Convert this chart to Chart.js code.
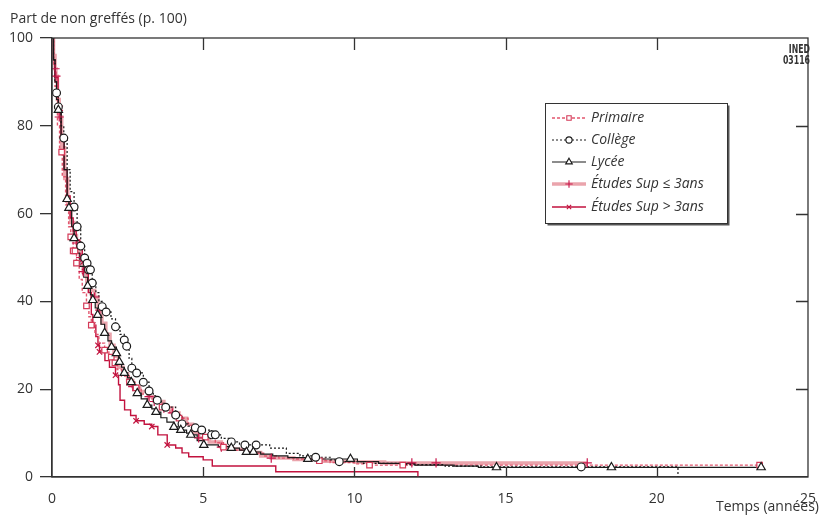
<!DOCTYPE html>
<html>
<head>
<meta charset="utf-8">
<script src="https://cdn.jsdelivr.net/npm/chart.js@4.4.0/dist/chart.umd.min.js"></script>
<style>
body{margin:0;background:#fff;}
#cadre{width:822px;height:516px;}
</style>
</head>
<body>
<div id="cadre"><canvas id="graficoGreffe" width="822" height="516"></canvas></div>
<script>
const ticksX = [0, 5, 10, 15, 20, 25];
const ticksY = [0, 20, 40, 60, 80, 100];

const primaireTemps = [0, 0.05, 0.1, 0.18, 0.25, 0.34, 0.45, 0.55, 0.62, 0.7, 0.81, 0.9, 1.0, 1.14, 1.22, 1.3, 1.42, 1.55, 1.74, 1.88, 2.01, 2.15, 2.3, 2.56, 2.78, 2.95, 3.15, 3.4, 3.64, 3.9, 4.2, 4.5, 4.8, 5.07, 5.4, 5.67, 6.0, 6.5, 7.0, 7.5, 8.0, 8.84, 9.2, 10.0, 10.5, 23.4];
const primaireSurv = [100, 94, 89, 80, 74, 68.4, 62, 57, 54.7, 51.5, 48.7, 45, 42, 39, 36.5, 34.6, 32.5, 30.5, 28.9, 27.3, 26, 24.5, 23, 21.6, 20.3, 18.9, 17.8, 16.8, 15.9, 14.6, 13.4, 11.8, 10.2, 9.1, 7.8, 6.8, 6.1, 5.4, 4.8, 4.3, 4.1, 3.7, 3.3, 3.0, 2.7, 2.7];
const primaireMarques = [0.32, 0.62, 0.7, 0.76, 0.81, 1.14, 1.3, 1.74, 1.96, 2.08, 2.56, 2.78, 3.64, 4.2, 5.07, 5.67, 8.84, 10.5, 11.6, 23.4];

const collegeTemps = [0, 0.05, 0.1, 0.15, 0.21, 0.3, 0.39, 0.5, 0.6, 0.73, 0.83, 0.95, 1.08, 1.16, 1.21, 1.33, 1.45, 1.55, 1.66, 1.79, 1.95, 2.1, 2.25, 2.39, 2.47, 2.55, 2.64, 2.8, 3.02, 3.21, 3.35, 3.48, 3.62, 3.76, 4.09, 4.3, 4.5, 4.74, 4.95, 5.28, 5.6, 5.93, 6.2, 6.38, 7.2, 7.75, 8.2, 8.72, 9.2, 9.5, 10.3, 11.5, 13.0, 14.2, 20.7];
const collegeSurv = [100, 95, 90, 87.5, 84.3, 80, 77.2, 70, 65, 61.5, 57, 52.6, 49.9, 48.7, 47.2, 44.2, 42, 40, 38.8, 37.6, 36, 34.2, 32.5, 31.2, 29.8, 27, 24.8, 23.7, 21.6, 19.6, 18.5, 17.5, 16.8, 15.9, 14.1, 12.1, 11.6, 11.2, 10.7, 9.6, 8.8, 8.0, 7.5, 7.3, 6.6, 5.4, 4.8, 4.5, 3.9, 3.5, 3.1, 2.8, 2.5, 2.3, 0];
const collegeMarques = [0.15, 0.21, 0.39, 0.73, 0.83, 0.95, 1.08, 1.16, 1.21, 1.27, 1.33, 1.66, 1.79, 2.1, 2.39, 2.47, 2.64, 2.8, 3.02, 3.21, 3.48, 3.76, 4.09, 4.3, 4.74, 4.95, 5.28, 5.4, 5.93, 6.38, 6.75, 8.72, 9.5, 17.5];

const lyceeTemps = [0, 0.05, 0.1, 0.15, 0.21, 0.3, 0.4, 0.5, 0.56, 0.65, 0.73, 0.82, 0.92, 1.05, 1.18, 1.27, 1.35, 1.43, 1.51, 1.62, 1.74, 1.85, 1.97, 2.13, 2.2, 2.3, 2.39, 2.5, 2.62, 2.72, 2.82, 2.95, 3.15, 3.3, 3.44, 3.6, 3.8, 4.03, 4.26, 4.45, 4.59, 4.8, 5.02, 5.5, 5.93, 6.2, 6.43, 6.9, 7.3, 7.8, 8.46, 10.1, 10.8, 12.0, 13.3, 14.1, 23.5];
const lyceeSurv = [100, 95, 90, 86, 83.6, 77, 70, 63.3, 61.3, 57, 54.4, 51, 48, 45.5, 43.5, 41.5, 40.3, 38.5, 36.9, 34.8, 32.8, 31, 29.6, 28.2, 26.2, 25, 23.7, 22.6, 21.6, 20.3, 19.1, 17.8, 16.4, 15.5, 14.8, 13.5, 12.5, 11.4, 10.7, 10.0, 9.6, 8.3, 7.3, 6.9, 6.6, 6.1, 5.7, 5.2, 4.8, 4.4, 4.1, 3.5, 3.1, 2.7, 2.5, 2.2, 2.2];
const lyceeMarques = [0.21, 0.5, 0.56, 0.73, 1.18, 1.35, 1.51, 1.74, 1.97, 2.13, 2.23, 2.39, 2.62, 2.82, 3.15, 3.44, 4.03, 4.26, 4.59, 5.02, 5.93, 6.43, 6.66, 8.46, 9.87, 14.7, 18.5, 23.45];

const supCourtTemps = [0, 0.05, 0.1, 0.13, 0.18, 0.24, 0.32, 0.42, 0.52, 0.62, 0.72, 0.81, 0.92, 1.03, 1.15, 1.28, 1.41, 1.52, 1.65, 1.78, 1.92, 2.05, 2.2, 2.35, 2.5, 2.67, 2.9, 3.21, 3.38, 3.7, 3.98, 4.2, 4.45, 4.65, 4.85, 5.2, 5.6, 5.9, 6.4, 6.9, 7.25, 8.0, 9.0, 10.0, 11.0, 17.7];
const supCourtSurv = [100, 96, 93, 91.3, 86, 82, 75, 68, 62, 58, 55, 53.3, 50, 46.8, 44.5, 42.5, 41, 38, 35, 32.5, 30, 27.5, 25, 23.5, 22, 20.6, 19.5, 18.3, 17.2, 15.7, 14.6, 13.4, 12.0, 10.2, 8.9, 8.0, 6.8, 6.3, 5.6, 4.8, 4.3, 4.0, 3.6, 3.4, 3.2, 3.2];
const supCourtMarques = [0.1, 0.13, 0.24, 0.81, 0.95, 1.03, 1.41, 1.58, 2.67, 3.21, 3.38, 3.7, 3.98, 4.2, 4.85, 5.6, 7.25, 11.9, 12.7, 17.7];

const supLongTemps = [0, 0.05, 0.1, 0.2, 0.3, 0.4, 0.5, 0.6, 0.7, 0.8, 0.92, 1.0, 1.08, 1.2, 1.3, 1.35, 1.45, 1.52, 1.57, 1.75, 1.9, 2.1, 2.2, 2.25, 2.4, 2.6, 2.78, 3.05, 3.3, 3.5, 3.81, 4.09, 4.3, 4.52, 5.0, 5.3, 7.4, 12.1];
const supLongSurv = [100, 95, 91, 84, 77, 70, 64, 59, 56, 54, 52.5, 49, 46.8, 42, 37, 34.6, 32, 30, 28.5, 26.5, 25, 23.2, 21, 17.5, 15.3, 14, 12.8, 12, 11.5, 9.6, 7.3, 6.6, 5.5, 4.6, 3.9, 2.5, 1.2, 0];
const supLongMarques = [0.27, 0.92, 1.03, 1.08, 1.35, 1.52, 1.57, 2.1, 2.78, 3.3, 3.81];

// valeur de la courbe en escalier au temps t
function survie(temps, surv, t) {
    let v = surv[0];
    for (let i = 0; i < temps.length; i++) {
        if (temps[i] <= t + 1e-9) v = surv[i];
    }
    return v;
}

const series = [
    {label: 'Primaire', temps: primaireTemps, surv: primaireSurv, marques: primaireMarques,
     couleur: '#e2566e', largeur: 1.4, tirets: [3, 2], point: 'rect', couleurPoint: '#d43a58', rayon: 3.9, ordre: 3},
    {label: 'Collège', temps: collegeTemps, surv: collegeSurv, marques: collegeMarques,
     couleur: '#1a1a1a', largeur: 1.2, tirets: [2, 2], point: 'circle', couleurPoint: '#1a1a1a', rayon: 3.9, ordre: 2},
    {label: 'Lycée', temps: lyceeTemps, surv: lyceeSurv, marques: lyceeMarques,
     couleur: '#1a1a1a', largeur: 1.2, tirets: [], point: 'triangle', couleurPoint: '#1a1a1a', rayon: 4.8, ordre: 1},
    {label: 'Études Sup ≤ 3ans', temps: supCourtTemps, surv: supCourtSurv, marques: supCourtMarques,
     couleur: '#eaa4ac', largeur: 3.5, tirets: [], point: 'cross', couleurPoint: '#c8174b', rayon: 4.6, ordre: 5},
    {label: 'Études Sup > 3ans', temps: supLongTemps, surv: supLongSurv, marques: supLongMarques,
     couleur: '#c2123e', largeur: 1.4, tirets: [], point: 'crossRot', couleurPoint: '#c2123e', rayon: 3.8, ordre: 4}
];

const datasets = [];
series.forEach(s => {
    datasets.push({
        label: s.label,
        data: s.temps.map((t, i) => ({x: t, y: s.surv[i]})),
        stepped: 'before',
        borderColor: s.couleur,
        borderWidth: s.largeur,
        borderDash: s.tirets,
        pointRadius: 0,
        fill: false,
        order: s.ordre + 10
    });
    datasets.push({
        label: s.label + ' (censures)',
        data: s.marques.map(t => ({x: t, y: survie(s.temps, s.surv, t)})),
        showLine: false,
        pointStyle: s.point,
        pointRadius: s.rayon,
        pointBorderColor: s.couleurPoint,
        pointBackgroundColor: '#fff',
        pointBorderWidth: 1.2,
        order: s.ordre
    });
});

const decor = {
    id: 'decor',
    afterDatasetsDraw(chart) {
        const {ctx, chartArea: a, scales: {x, y}} = chart;
        ctx.save();
        ctx.strokeStyle = '#333';
        ctx.lineWidth = 1.3;
        ctx.strokeRect(a.left, a.top, a.right - a.left, a.bottom - a.top);
        ctx.beginPath();
        ticksX.slice(1, -1).forEach(v => {
            const px = Math.round(x.getPixelForValue(v)) + 0.5;
            ctx.moveTo(px, a.top); ctx.lineTo(px, a.top + 12);
            ctx.moveTo(px, a.bottom); ctx.lineTo(px, a.bottom - 10);
        });
        ticksY.slice(1, -1).forEach(v => {
            const py = Math.round(y.getPixelForValue(v)) + 0.5;
            ctx.moveTo(a.right, py); ctx.lineTo(a.right - 12, py);
        });
        ctx.stroke();

        ctx.fillStyle = '#333';
        ctx.font = '14px "Open Sans"';
        ctx.textAlign = 'left';
        ctx.textBaseline = 'alphabetic';
        ctx.fillText('Part de non greffés (p. 100)', 10, 23);
        ctx.textAlign = 'right';
        ctx.fillText('Temps (années)', 819, 511);

        // cartouche INED, police étroite
        ctx.font = 'bold 12px "DejaVu Sans Condensed"';
        [['INED', 53], ['03116', 64]].forEach(([txt, ty]) => {
            ctx.save();
            ctx.translate(810, ty);
            ctx.scale(0.72, 1);
            ctx.fillText(txt, 0, 0);
            ctx.restore();
        });

        // légende
        const bx = 545.5, by = 103.5, bw = 182, bh = 120;
        ctx.fillStyle = '#555';
        ctx.fillRect(bx + 2, by + 2, bw, bh);
        ctx.fillStyle = '#fff';
        ctx.fillRect(bx, by, bw, bh);
        ctx.lineWidth = 1;
        ctx.strokeStyle = '#333';
        ctx.strokeRect(bx, by, bw, bh);

        const lignes = [118, 140, 162, 184, 207];
        series.forEach((s, i) => {
            const ly = lignes[i];
            ctx.save();
            ctx.strokeStyle = s.couleur;
            ctx.lineWidth = s.largeur;
            ctx.setLineDash(s.tirets);
            ctx.beginPath();
            ctx.moveTo(552, ly); ctx.lineTo(586, ly);
            ctx.stroke();
            ctx.restore();
            ctx.save();
            ctx.strokeStyle = s.couleurPoint;
            ctx.fillStyle = '#fff';
            ctx.lineWidth = 1.1;
            Chart.helpers.drawPoint(ctx, {pointStyle: s.point, radius: s.rayon * 0.8, rotation: 0, borderWidth: 1.1}, 569, ly);
            ctx.restore();
            ctx.fillStyle = '#333';
            ctx.font = 'italic 14px "Open Sans"';
            ctx.textAlign = 'left';
            ctx.textBaseline = 'middle';
            ctx.fillText(s.label, 591, ly);
        });
        ctx.restore();
    }
};

new Chart(document.getElementById('graficoGreffe').getContext('2d'), {
    type: 'line',
    data: {datasets: datasets},
    plugins: [decor],
    options: {
        responsive: false,
        animation: false,
        layout: {padding: {top: 38, right: 8, left: 0, bottom: 0}},
        plugins: {
            legend: {display: false},
            tooltip: {enabled: false}
        },
        scales: {
            x: {
                type: 'linear',
                min: 0,
                max: 25,
                afterFit: s => { s.height = 39; },
                afterBuildTicks: s => { s.ticks = ticksX.map(v => ({value: v})); },
                grid: {display: false},
                border: {color: '#333', width: 1.3},
                ticks: {padding: 6, color: '#333', font: {family: 'Open Sans', size: 14}}
            },
            y: {
                type: 'linear',
                min: 0,
                max: 100,
                afterFit: s => { s.width = 52; },
                afterBuildTicks: s => { s.ticks = ticksY.map(v => ({value: v})); },
                grid: {drawOnChartArea: false, drawTicks: true, tickLength: 12, color: '#333', lineWidth: 1.3},
                border: {color: '#333', width: 1.3},
                ticks: {padding: 7, color: '#333', font: {family: 'Open Sans', size: 14}}
            }
        }
    }
});
</script>
</body>
</html>
